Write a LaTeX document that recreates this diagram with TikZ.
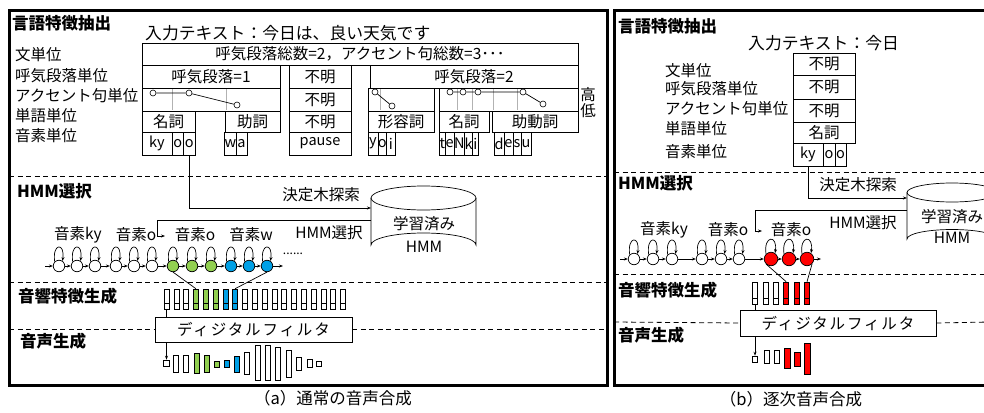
\documentclass[tikz,border=0pt]{standalone}
\usepackage{fontspec}
\setmainfont{Noto Sans CJK JP}
\usetikzlibrary{arrows.meta}
\definecolor{gr}{HTML}{92D050}
\definecolor{bl}{HTML}{00A0E6}
\definecolor{rd}{HTML}{FF0000}
\newcommand\fs[1]{\fontsize{#1}{#1}\selectfont}
\newcommand\cel[7][]{\node[cellbox,minimum width={(#4-#2)*1pt},minimum height={(#5-#3)*1pt},#1] (#6) at ({(#2+#4)/2},{(#3+#5)/2}) {#7};}
\tikzset{
 lbl/.style={inner sep=0, font=\fs{15.5}},
 big/.style={inner sep=0, font=\fs{16.8}},
 hd/.style={inner sep=0, anchor=west, font=\fs{16.5}\bfseries},
 cellbox/.style={draw, inner sep=0, font=\fs{15.5}, line width=0.7pt},
 ph/.style={font=\fs{14.5}},
 thinl/.style={line width=0.7pt},
 sepline/.style={line width=0.8pt, dash pattern=on 5pt off 3.5pt},
 panel/.style={line width=3pt},
 st/.style={circle, draw, inner sep=0, minimum size=11.5pt, line width=0.7pt},
 ac/.style={circle, draw, inner sep=0, minimum size=6pt, fill=white, line width=0.6pt},
 arr/.style={-{Stealth[length=4pt,width=3pt]}, line width=0.7pt},
 grayv/.style={draw=black!30, line width=0.7pt},
 barn/.style={draw, inner sep=0, minimum width=5pt, line width=0.6pt},
 filt/.style={draw, fill=white, inner sep=0, line width=0.7pt, font=\fs{15.5}\addfontfeature{LetterSpace=12}},
 captxt/.style={inner sep=0, font=\fs{16.5}},
}
\newcommand\selfloop[1]{\draw[arr] (#1.135) .. controls +(262:19) and +(278:19) .. (#1.55);}
\begin{document}
\begin{tikzpicture}[x=1pt,y=-1pt]
\useasboundingbox (0,0) rectangle (984,412);
\clip (0,0) rectangle (984,412);

%================ panel (a) ================
\draw[sepline] (9,176) -- (607,176);
\draw[sepline] (9,282.5) -- (607,282.5);

\node[hd] (hA1) at (12,23) {言語特徴抽出};
\node[hd] (hA2) at (17,191) {HMM選択};
\node[hd] (hA3) at (18,296) {音響特徴生成};
\node[hd] (hA4) at (20,341) {音声生成};

\node[big, anchor=west] (inA) at (145,33) {入力テキスト：今日は、良い天気です};

\node[lbl, anchor=west] (lA1) at (15,55) {文単位};
\node[lbl, anchor=west] (lA2) at (15,76) {呼気段落単位};
\node[lbl, anchor=west] (lA3) at (15,96) {アクセント句単位};
\node[lbl, anchor=west] (lA4) at (15,116) {単語単位};
\node[lbl, anchor=west] (lA5) at (15,136) {音素単位};

\cel{142}{43}{578}{65}{rowA1}{呼気段落総数=2，アクセント句総数=3･･･}
\cel{142}{65}{280}{88}{bgA1}{呼気段落=1}
\cel{289}{65}{351}{88}{unA1}{不明}
\cel{370}{65}{578}{88}{bgA2}{呼気段落=2}
\cel{142}{88}{280}{111}{apA1}{}
\cel{289}{88}{351}{111}{unA2}{不明}
\cel{368}{88}{434}{111}{apA2}{}
\cel{439}{88}{578}{111}{apA3}{}
\cel{142}{111}{195}{132}{wdA1}{名詞}
\cel{225}{111}{280}{132}{wdA2}{助詞}
\cel{289}{111}{351}{132}{unA3}{不明}
\cel{368}{111}{434}{132}{wdA3}{形容詞}
\cel{439}{111}{489}{132}{wdA4}{名詞}
\cel{492}{111}{578}{132}{wdA5}{助動詞}
% phonemes
\cel[ph]{142}{132}{172}{155}{phA1}{ky}
\cel[ph]{172}{132}{183.5}{155}{phA2}{o}
\cel[ph]{183.5}{132}{195}{155}{phA3}{o}
\cel[ph]{225}{132}{236}{155}{phA4}{w}
\cel[ph]{236}{132}{247}{155}{phA5}{a}
\cel[ph]{289}{132}{351}{155}{phA6}{pause}
\cel[ph]{368}{132}{378}{155}{phA7}{y}
\cel[ph]{378}{132}{386.5}{155}{phA8}{o}
\cel[ph]{386.5}{132}{395}{155}{phA9}{i}
\cel[ph]{439}{132}{445.5}{155}{phA10}{t}
\cel[ph]{445.5}{132}{454}{155}{phA11}{e}
\cel[ph]{454}{132}{464.5}{155}{phA12}{N}
\cel[ph]{464.5}{132}{472.5}{155}{phA13}{k}
\cel[ph]{472.5}{132}{478}{155}{phA14}{i}
\cel[ph]{494}{132}{504}{155}{phA15}{d}
\cel[ph]{504}{132}{513}{155}{phA16}{e}
\cel[ph]{513}{132}{521}{155}{phA17}{s}
\cel[ph]{521}{132}{531}{155}{phA18}{u}

% accent lines
\foreach \x in {172,226,380,457,472,493,517} \draw[grayv] (\x,89) -- (\x,110);
\node[ac] (c1) at (153,93) {};
\node[ac] (c2) at (189,93) {};
\node[ac] (c3) at (237,105) {};
\draw[thinl] (c1) -- (c2) -- (c3);
\node[ac] (c4) at (375,92) {};
\node[ac] (c5) at (392,106) {};
\draw[thinl] (c4) -- (c5);
\node[ac] (c6) at (450,92) {};
\node[ac] (c7) at (463,92) {};
\node[ac] (c8) at (478,92) {};
\node[ac] (c9) at (523,92) {};
\node[ac] (c10) at (543,104) {};
\draw[thinl] (c6) -- (c7) -- (c8) -- (c9) -- (c10);
\node[lbl] (hiA) at (588,95) {高};
\node[lbl] (loA) at (588,111) {低};

% database (a)
\node[inner sep=0, minimum width=105pt, minimum height=71pt] (dbA) at (423.5,221.5) {};
\draw[thinl, fill=white] (371,198) -- (371,245) arc[start angle=180, end angle=360, x radius=52.5, y radius=12] -- (476,198);
\draw[thinl] (423.5,198) ellipse [x radius=52.5, y radius=12];
\node[lbl] (dbAt1) at (424,224) {学習済み};
\node[lbl] (dbAt2) at (424,247) {HMM};

\coordinate (dbAin) at (371,208);
\draw[arr] (phA3.south) |- (dbAin);
\node[lbl] (dtA) at (321,195) {決定木探索};
\coordinate (dbAout) at (371,220);
\coordinate (selA) at (165,236);
\draw[arr] (dbAout) -| ++(-214,16) -- (selA);
\node[lbl] (hsA) at (329,233) {HMM選択};

\node[lbl] (pA1) at (78,235) {音素ky};
\node[lbl] (pA2) at (136,235) {音素o};
\node[lbl] (pA3) at (195,235) {音素o};
\node[lbl] (pA4) at (251,235) {音素w};

% HMM chain (a)
\foreach \n/\x/\c in {1/59/white,2/77/white,3/95/white,4/116/white,5/134/white,6/152/white,7/173/gr,8/192/gr,9/211/gr,10/231/bl,11/249/bl,12/267/bl}{
  \node[st, fill=\c] (sa\n) at (\x,266) {};
  \selfloop{sa\n}
}
\coordinate (sa0) at (45,266);
\coordinate (saE) at (283,266);
\draw[arr] (sa0) -- (sa1);
\foreach \i [evaluate=\i as \j using int(\i+1)] in {1,...,11} \draw[arr] (sa\i) -- (sa\j);
\draw[arr] (sa12) -- (saE);
\node[inner sep=0, font=\fs{12}] (dotsA) at (293,254) {......};

% acoustic feature bars (a)
\foreach \i/\c in {0/white,1/white,2/white,3/gr,4/gr,5/gr,6/bl,7/bl,8/white,9/white,10/white,11/white,12/white,13/white,14/white,15/white,16/white,17/white,18/white}{
  \pgfmathsetmacro\bx{166.5+9.8*\i}
  \node[barn, fill=\c, minimum height=14pt] (fa\i) at (\bx,296) {};
  \node[barn, fill=\c, minimum height=6pt] (fb\i) at (\bx,306) {};
}
\draw[thinl] (sa7.south) -- (fa3.north);
\draw[thinl] (sa12.south) -- (fa7.north);

\node[filt, minimum width=197pt, minimum height=25pt] (filtA) at (253.5,329.5) {ディジタルフィルタ};
\draw[sepline] (9,329.5) -- (filtA.west);
\draw[sepline] (filtA.east) -- (607,329.5);
\draw[thinl] (fb0.south) -- (fb0.south |- filtA.north);

\foreach \n/\x/\t/\b/\c in {0/166.5/360/366/white,1/176/355/372/white,2/186/355/372/white,3/197/353/373/gr,4/207/355/372/gr,5/217/361/367/gr,6/227/360/367/bl,7/237/356/372/bl,8/247/352/374/white,9/258/345/380/white,10/268/345/380/white,11/278/347/380/white,12/289/350/377/white,13/299/357/370/white,14/310/359/367/white,15/319/361/366/white}{
  \node[barn, fill=\c, minimum width=5.5pt, minimum height={(\b-\t)*1pt}] (oa\n) at (\x,{(\t+\b)/2}) {};
}
\draw[arr] (filtA.south -| oa0.north) -- (oa0.north);

\draw[panel] (9,10.5) rectangle (607,385.5);
\node[captxt] (capA) at (333,398) {（a）通常の音声合成};

%================ panel (b) ================
\draw[sepline] (614,172) -- (990,172);
\draw[sepline] (614,274) -- (990,274);

\node[hd] (hB1) at (618,26) {言語特徴抽出};
\node[hd] (hB2) at (618,183) {HMM選択};
\node[hd] (hB3) at (618,290) {音響特徴生成};
\node[hd] (hB4) at (618,335) {音声生成};

\node[big, anchor=west] (inB) at (748,43) {入力テキスト：今日};

\node[lbl, anchor=west] (lB1) at (665,71) {文単位};
\node[lbl, anchor=west] (lB2) at (665,89) {呼気段落単位};
\node[lbl, anchor=west] (lB3) at (665,109) {アクセント句単位};
\node[lbl, anchor=west] (lB4) at (665,129) {単語単位};
\node[lbl, anchor=west] (lB5) at (665,152) {音素単位};

\cel{793}{53}{855}{75}{unB1}{不明}
\cel{793}{75}{855}{99}{unB2}{不明}
\cel{793}{99}{855}{122}{unB3}{不明}
\cel{793}{122}{855}{143}{wdB1}{名詞}
\cel[ph]{793}{143}{823}{166}{phB1}{ky}
\cel[ph]{823}{143}{835}{166}{phB2}{o}
\cel[ph]{835}{143}{846}{166}{phB3}{o}

\node[inner sep=0, minimum width=90pt, minimum height=65pt] (dbB) at (952,215.5) {};
\draw[thinl, fill=white] (907,192.5) -- (907,239) arc[start angle=180, end angle=360, x radius=45, y radius=9.5] -- (997,192.5);
\draw[thinl] (952,192.5) ellipse [x radius=45, y radius=9.5];
\node[lbl] (dbBt1) at (952,217) {学習済み};
\node[lbl] (dbBt2) at (952,238) {HMM};

\coordinate (dbBin) at (907,198);
\draw[arr] (phB1.south -| 808,0) |- (dbBin);
\node[lbl] (dtB) at (858,185) {決定木探索};
\coordinate (dbBout) at (907,210);
\coordinate (selB) at (762,231);
\draw[arr] (dbBout) -| ++(-152,21) -- (selB);
\node[lbl] (hsB) at (863,223) {HMM選択};

\node[lbl] (pB1) at (664,230) {音素ky};
\node[lbl] (pB2) at (728,230) {音素o};
\node[lbl] (pB3) at (791,230) {音素o};

\foreach \n/\x/\c/\r in {1/634/white/11.5,2/653/white/11.5,3/672/white/11.5,4/702/white/11.5,5/721/white/11.5,6/739/white/11.5,7/771/rd/13.5,8/789/rd/13.5,9/807/rd/13.5}{
  \node[st, fill=\c, minimum size=\r pt] (sb\n) at (\x,259) {};
  \selfloop{sb\n}
}
\coordinate (sb0) at (620,259);
\coordinate (sbE) at (821,259);
\draw[arr] (sb0) -- (sb1);
\foreach \i [evaluate=\i as \j using int(\i+1)] in {1,...,8} \draw[arr] (sb\i) -- (sb\j);
\draw[arr] (sb9) -- (sbE);

\foreach \i/\c in {0/white,1/white,2/white,3/rd,4/rd,5/rd}{
  \pgfmathsetmacro\bx{755+10.4*\i}
  \node[barn, fill=\c, minimum height=16pt] (ga\i) at (\bx,290) {};
  \node[barn, fill=\c, minimum height=6pt] (gb\i) at (\bx,301) {};
}
\draw[thinl] (sb7.south west) -- (ga3.north);
\draw[thinl] (sb9.south east) -- (ga5.north);

\node[filt, minimum width=196pt, minimum height=26pt] (filtB) at (838,323) {ディジタルフィルタ};
\draw[sepline] (614,322) -- (filtB.west);
\draw[sepline] (filtB.east) -- (990,322);
\draw[thinl] (gb0.south) -- (gb0.south |- filtB.north);

\foreach \n/\x/\t/\b/\c/\w in {0/755/356/362/white/5,1/767/350/363/white/5.5,2/777/350/363/white/5.5,3/787/348/368/rd/6,4/797/352/366/rd/6,5/807/343/374/rd/6}{
  \node[barn, fill=\c, minimum width=\w pt, minimum height={(\b-\t)*1pt}] (ob\n) at (\x,{(\t+\b)/2}) {};
}
\draw[arr] (filtB.south -| ob0.north) -- (ob0.north);

\draw[panel] (614,10.5) rectangle (1000,385.5);
\node[captxt] (capB) at (791,399) {（b）逐次音声合成};
\end{tikzpicture}
\end{document}
